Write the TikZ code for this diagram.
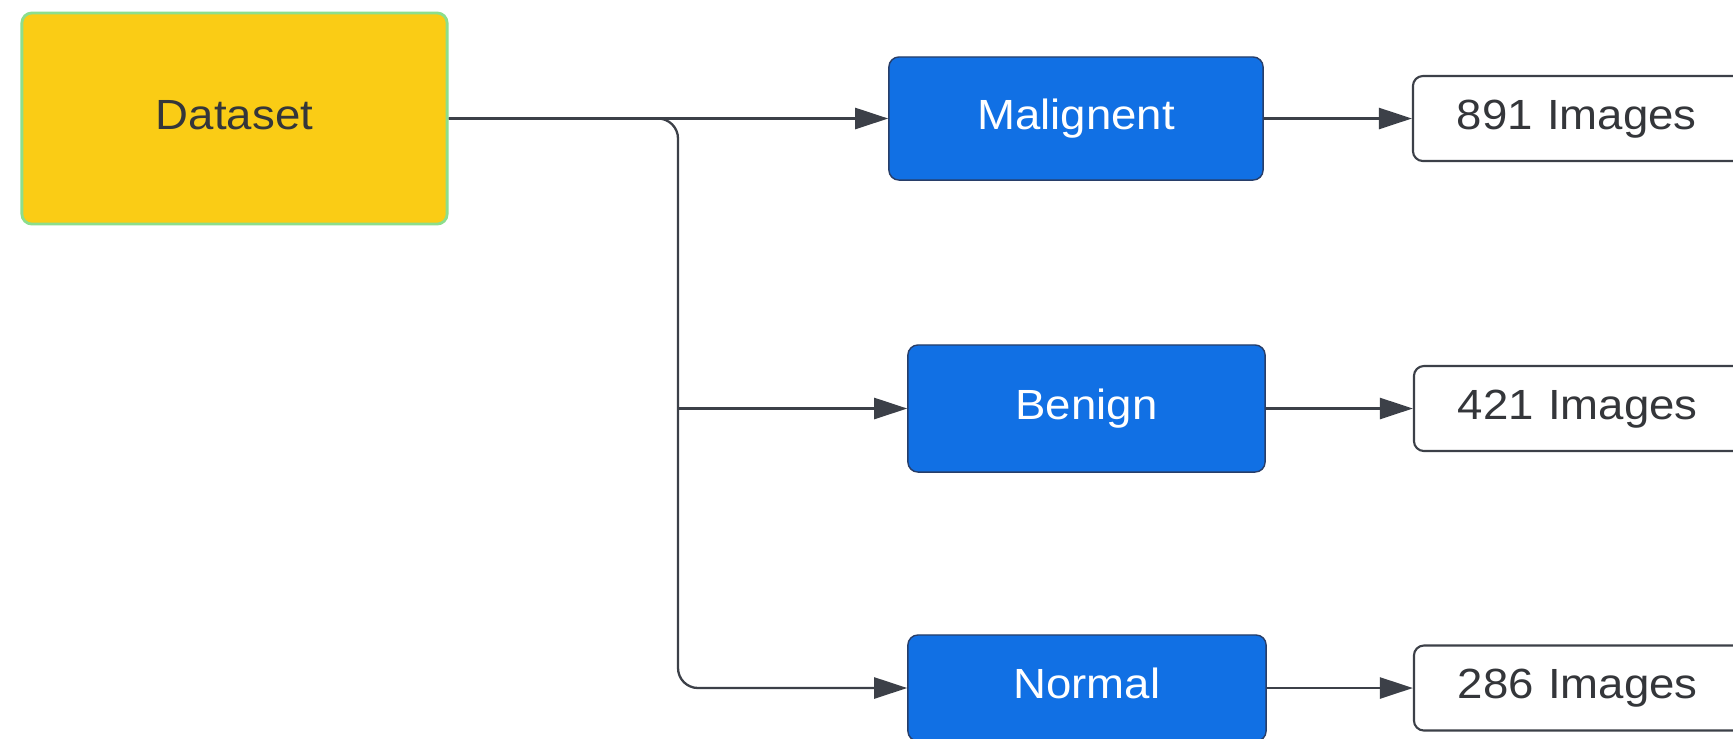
\documentclass[tikz,border=0pt]{standalone}
\usepackage{fontspec}
\setmainfont{Liberation Sans}[FakeStretch=1.08]
\usepackage{xcolor}
\usepackage{tikz}
\usetikzlibrary{positioning}
\usetikzlibrary{arrows.meta}

\definecolor{dsyellow}{RGB}{250,204,21}
\definecolor{dsgreen}{RGB}{140,222,140}
\definecolor{clsblue}{RGB}{17,112,228}
\definecolor{clsedge}{RGB}{40,62,105}
\definecolor{wire}{RGB}{60,64,72}
\definecolor{ink}{RGB}{52,54,58}

\tikzset{
	data/.style={rectangle, rounded corners=0.1cm, fill=dsyellow, draw=dsgreen, line width=0.8pt, text=ink, minimum width=4.25cm, minimum height=2.11cm, text height=0.3cm, text depth=0.09cm},
	cls/.style={rectangle, rounded corners=0.1cm, fill=clsblue, draw=clsedge, line width=0.4pt, text=white, text height=0.3cm, text depth=0.09cm},
	count/.style={rectangle, rounded corners=0.1cm, draw=wire, line width=0.6pt, fill=white, text=ink, text width=2.74cm, inner xsep=0.44cm, minimum height=0.85cm, align=left, text height=0.3cm, text depth=0.09cm},
	flow/.style={-{Triangle[length=9.4pt,width=6pt]}, draw=wire, line width=0.65pt},
}

\begin{document}
\begin{tikzpicture}[x=0.01cm, y=-0.01cm, font=\fontsize{12}{14}\selectfont]
	\useasboundingbox (0,0) rectangle (1733,738);
	\clip (0,0) rectangle (1733,738);
	\fill[white] (0,0) rectangle (1733,738);

	\node[data] (dataset) at (234.5,118.5) {Dataset};

	\node[cls, minimum width=3.74cm, minimum height=1.23cm] (malig) at (1076,118.5) {Malignent};
	\node[cls, minimum width=3.57cm, minimum height=1.27cm] (benign) at (1086.5,408.5) {Benign};
	\node[cls, minimum width=3.58cm, minimum height=1.06cm] (normal) at (1087,688) {Normal};

	\node[count] (n891) [right = 1.48cm of malig] {891 Images};
	\node[count] (n421) [right = 1.47cm of benign] {421 Images};
	\node[count] (n286) [right = 1.46cm of normal] {286 Images};

	\coordinate (split) at (678,118.5);

	\draw[flow] (dataset) -- (malig);
	\draw[flow, rounded corners=0.2cm] (dataset.east) -| (split |- normal.west) -- (normal);
	\draw[flow] (split |- benign.west) -- (benign);

	\draw[flow] (malig) -- (n891);
	\draw[flow] (benign) -- (n421);
	\draw[flow] (normal) -- (n286);
\end{tikzpicture}
\end{document}
